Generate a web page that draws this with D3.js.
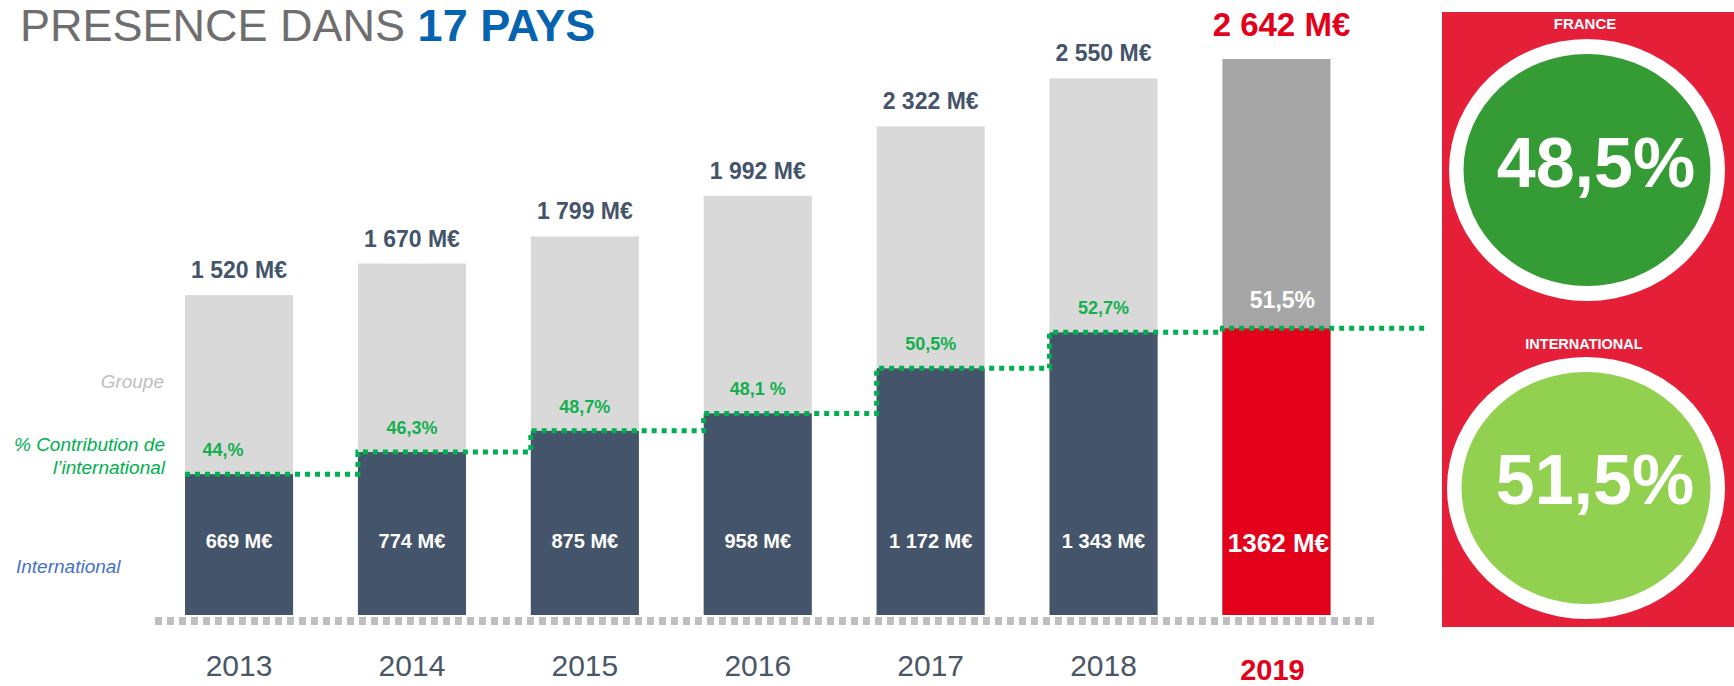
<!DOCTYPE html>
<html>
<head>
<meta charset="utf-8">
<script src="https://cdn.jsdelivr.net/npm/d3@7"></script>
<style>
  body { margin: 0; background: #fff; }
  svg { display: block; font-family: "Liberation Sans", Arial, sans-serif; }
</style>
</head>
<body>
<div id="chart"></div>
<script>
// Données
const years = ["2013", "2014", "2015", "2016", "2017", "2018", "2019"];
const totalValues = [1520, 1670, 1799, 1992, 2322, 2550, 2642];
const intlValues = [669, 774, 875, 958, 1172, 1343, 1362];
const pctLabels = ["44,%", "46,3%", "48,7%", "48,1 %", "50,5%", "52,7%", "51,5%"];
const sideLabels = ["Groupe", "% Contribution de", "l’international", "International"];
const panelNames = ["FRANCE", "INTERNATIONAL"];
const panelShares = [48.5, 51.5];

const width = 1734;
const height = 686;
const lastYear = years[years.length - 1];

const fr = d3.formatLocale({ decimal: ",", thousands: "\u00a0", grouping: [3], currency: ["", ""] });
const fmtM = v => fr.format(",")(v) + " M€";
const fmtPct = v => fr.format(".1f")(v) + "%";

const rows = years.map((yr, i) => ({
  year: yr, total: totalValues[i], intl: intlValues[i], pct: pctLabels[i], last: yr === lastYear
}));

const svg = d3.select("#chart").append("svg")
  .attr("width", width)
  .attr("height", height);

const x = d3.scaleBand()
  .domain(years)
  .range([152.6, 1362.9])
  .paddingInner(0.375)
  .paddingOuter(0.1875);

const y = d3.scaleLinear()
  .domain([0, d3.max(totalValues)])
  .range([615, 59]);

// titre
const title = svg.append("text")
  .attr("x", 20)
  .attr("y", 41)
  .style("font-size", "45px");
title.append("tspan").attr("fill", "#6e6e6e").text("PRESENCE DANS ");
title.append("tspan").attr("fill", "#0563b0").attr("font-weight", "bold").text("17 PAYS");

// barres groupe
svg.selectAll("rect.total")
  .data(rows)
  .enter()
  .append("rect")
  .attr("class", "total")
  .attr("x", d => x(d.year))
  .attr("y", d => y(d.total))
  .attr("width", x.bandwidth())
  .attr("height", d => y(0) - y(d.total))
  .attr("fill", d => d.last ? "#a6a6a6" : "#d9d9d9");

// barres international
svg.selectAll("rect.intl")
  .data(rows)
  .enter()
  .append("rect")
  .attr("class", "intl")
  .attr("x", d => x(d.year))
  .attr("y", d => y(d.intl))
  .attr("width", x.bandwidth())
  .attr("height", d => y(0) - y(d.intl))
  .attr("fill", d => d.last ? "#e2001a" : "#44546a");

// ligne de base pointillée
svg.append("line")
  .attr("x1", 155)
  .attr("x2", 1374)
  .attr("y1", y(0) + 6)
  .attr("y2", y(0) + 6)
  .attr("stroke", "#bfbfbf")
  .attr("stroke-width", 8)
  .attr("stroke-dasharray", "7,5");

// ligne % contribution (en escalier)
const stepPts = rows.map(d => [x(d.year), y(d.intl)]);
stepPts.push([1429, y(intlValues[intlValues.length - 1])]);
svg.append("path")
  .attr("d", d3.line().curve(d3.curveStepAfter)(stepPts))
  .attr("fill", "none")
  .attr("stroke", "#00b050")
  .attr("stroke-width", 5)
  .attr("stroke-dasharray", "5,5");

// étiquettes totaux
svg.selectAll("text.total")
  .data(rows)
  .enter()
  .append("text")
  .attr("class", "total")
  .attr("x", d => x(d.year) + x.bandwidth() / 2 + (d.last ? 5 : 0))
  .attr("y", d => y(d.total) - (d.last ? 23 : 17))
  .attr("text-anchor", "middle")
  .attr("font-weight", "bold")
  .style("font-size", d => d.last ? "33px" : "23px")
  .attr("fill", d => d.last ? "#e2001a" : "#44546a")
  .text(d => fmtM(d.total));

// étiquettes international
svg.selectAll("text.intl")
  .data(rows)
  .enter()
  .append("text")
  .attr("class", "intl")
  .attr("x", d => x(d.year) + x.bandwidth() / 2 + (d.last ? 2 : 0))
  .attr("y", d => y(0) - (d.last ? 63 : 67))
  .attr("text-anchor", "middle")
  .attr("font-weight", "bold")
  .style("font-size", d => d.last ? "26px" : "20px")
  .attr("fill", "#fff")
  .text(d => d.last ? d.intl + " M€" : fmtM(d.intl));

// étiquettes %
svg.selectAll("text.pct")
  .data(rows)
  .enter()
  .append("text")
  .attr("class", "pct")
  .attr("x", d => x(d.year) + x.bandwidth() / 2 + (d.year === "2013" ? -16 : 0) + (d.last ? 6 : 0))
  .attr("y", d => y(d.intl) - (d.last ? 20 : 18))
  .attr("text-anchor", "middle")
  .attr("font-weight", "bold")
  .style("font-size", d => d.last ? "23px" : "18px")
  .attr("fill", d => d.last ? "#fff" : "#14b04f")
  .text(d => d.pct);

// axe des années
const xAxis = d3.axisBottom(x).tickSize(0).tickPadding(40);
const axisG = svg.append("g")
  .attr("transform", "translate(0," + y(0) + ")")
  .call(xAxis);
axisG.select(".domain").remove();
axisG.selectAll("text")
  .attr("fill", "#4a5766")
  .style("font-size", "30px")
  .style("font-family", "'Liberation Sans', Arial, sans-serif");
axisG.selectAll(".tick")
  .filter(d => d === lastYear)
  .select("text")
  .attr("fill", "#e2001a")
  .attr("font-weight", "bold")
  .style("font-size", "29px")
  .attr("dx", "-4")
  .attr("dy", "0.85em");

// libellés de gauche
const side = svg.append("g").style("font-style", "italic").style("font-size", "19px");
side.append("text").attr("x", 164).attr("y", 388).attr("text-anchor", "end")
  .attr("fill", "#bfbfbf").text(sideLabels[0]);
side.append("text").attr("x", 165).attr("y", 451).attr("text-anchor", "end")
  .attr("fill", "#00b050").text(sideLabels[1]);
side.append("text").attr("x", 165).attr("y", 474).attr("text-anchor", "end")
  .attr("fill", "#00b050").text(sideLabels[2]);
side.append("text").attr("x", 16).attr("y", 573)
  .attr("fill", "#4472c4").text(sideLabels[3]);

// panneau de droite
const panel = svg.append("g");
panel.append("rect")
  .attr("x", 1442).attr("y", 12)
  .attr("width", 292).attr("height", 615)
  .attr("fill", "#e51f38");

const bubbles = [
  { name: panelNames[0], share: panelShares[0], cx: 1587, cy: 170, rx: 138, ry: 131, ly: 29, ty: 187, fill: "#359b35" },
  { name: panelNames[1], share: panelShares[1], cx: 1586, cy: 488, rx: 139, ry: 131, ly: 349, ty: 504, fill: "#92d050" }
];

bubbles.forEach(b => {
  panel.append("text")
    .attr("x", b.cx - 2).attr("y", b.ly)
    .attr("text-anchor", "middle")
    .attr("font-weight", "bold")
    .style("font-size", b.name.length > 6 ? "14.5px" : "15px")
    .attr("fill", "#fff")
    .text(b.name);
  panel.append("ellipse")
    .attr("cx", b.cx).attr("cy", b.cy)
    .attr("rx", b.rx).attr("ry", b.ry)
    .attr("fill", "#fff");
  panel.append("ellipse")
    .attr("cx", b.cx).attr("cy", b.cy)
    .attr("rx", b.rx - 14.5).attr("ry", b.ry - 15)
    .attr("fill", b.fill);
  panel.append("text")
    .attr("x", b.cx + 9).attr("y", b.ty)
    .attr("text-anchor", "middle")
    .attr("font-weight", "bold")
    .style("font-size", "70px")
    .attr("fill", "#fff")
    .text(fmtPct(b.share));
});
</script>
</body>
</html>
